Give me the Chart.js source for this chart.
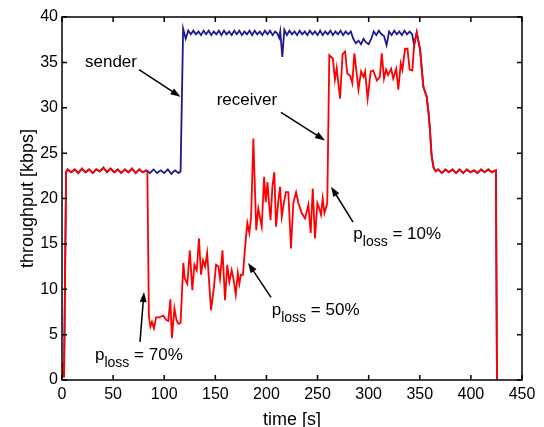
<!DOCTYPE html>
<html>
<head>
<meta charset="utf-8">
<script src="https://cdn.jsdelivr.net/npm/chart.js@4.4.0/dist/chart.umd.min.js"></script>
<style>
  html, body { margin: 0; padding: 0; background: #fff; }
  canvas { display: block; }
</style>
</head>
<body>
<canvas id="chartThroughput" width="544" height="427"></canvas>
<script>

// both curves share the start-up and the tail, so those are kept once
const rampTime = [0, 1, 2, 4, 5.5, 9, 12.5, 16, 19.5, 23, 26.5, 30, 33.5, 37, 40.5, 44, 47.5, 51, 54.5, 58, 61.5, 65, 68.5, 72, 75.5, 79, 82.5];
const rampKbps = [0, 1.8, 0.3, 22.9, 23.2, 22.9, 23.2, 22.8, 23.3, 22.9, 23.2, 22.8, 23.2, 23.0, 23.4, 22.9, 23.3, 22.9, 23.2, 22.8, 23.2, 22.9, 23.3, 22.8, 23.2, 22.9, 23.1];

const senderMidTime = [86, 89.5, 93, 96.5, 100, 103.5, 107, 110.5, 114, 116,
  118.5, 121,
  123.5, 126, 128.5, 131, 133.5, 136, 138.5, 141, 143.5, 146, 148.5, 151, 153.5, 156, 158.5, 161, 163.5, 166, 168.5, 171,
  173.5, 176, 178.5, 181, 183.5, 186, 188.5, 191, 193.5, 196, 198.5, 201, 203.5, 206, 208.5,
  210.5, 212.5, 213.5, 215.5, 217.5,
  220, 222.5, 225, 227.5, 230, 232.5, 235, 237.5, 240, 242.5, 245, 247.5, 250, 252.5, 255, 257.5, 260, 262.5, 265, 267.5,
  270, 272.5, 275, 277.5, 280, 282.5,
  285, 287.5, 290, 292.5, 295, 297.5, 300, 302.5, 305, 307.5, 310, 312.5, 315, 317.5, 320, 322.5, 325, 327.5, 330, 332.5,
  335, 337.5, 340, 342.5];
const senderMidKbps = [22.8, 23.2, 22.8, 23.1, 22.8, 23.2, 22.7, 23.1, 22.8, 23.0,
  38.7, 37.6,
  38.5, 38.1, 38.5, 38.1, 38.4, 38.0, 38.5, 38.1, 38.5, 38.0, 38.4, 38.1, 38.5, 38.0, 38.5, 38.1, 38.4, 38.0, 38.5, 38.1,
  38.5, 38.0, 38.4, 38.1, 38.5, 38.0, 38.5, 38.1, 38.4, 38.0, 38.5, 38.1, 38.5, 38.0, 38.4,
  38.2, 37.7, 38.4, 35.6, 38.6,
  38.0, 38.5, 38.1, 38.4, 38.0, 38.5, 38.1, 38.4, 38.0, 38.5, 38.1, 38.4, 38.0, 38.5, 38.0, 38.4, 38.1, 38.5, 38.0, 38.4,
  38.1, 38.5, 38.0, 38.4, 38.1, 38.4,
  37.6, 37.1, 37.4, 37.0, 37.6, 37.2, 37.0, 37.6, 38.4, 38.0, 38.5, 38.1, 37.9, 36.9, 38.4, 38.0, 38.5, 38.1, 38.4, 38.0,
  38.5, 38.1, 38.4, 38.1];

const receiverMidTime = [83.5, 85, 86.5, 88, 90, 92, 95, 97, 99, 102,
  104, 106, 107.5, 110, 112, 114, 116, 118.7, 120, 122.6,
  125, 127.5, 129.5, 131.8, 134, 136, 138, 140, 142, 145.8,
  148.7, 150.7, 153, 154.6, 157, 159.5, 161.7, 163.7, 166, 168,
  170, 172, 173.5, 175, 177, 179, 181.3, 183.3, 185, 187.2,
  190, 192, 195.4, 197.7, 199.3, 201, 202.5, 204, 205.8, 207.7,
  209.4, 211.7, 213.3, 215, 217, 219, 221.4, 224, 226.3, 229,
  231.2, 234.5, 237.8, 241, 243.3, 245.3, 247.5, 249.8, 251.7, 253.4,
  255, 256.7, 258, 259.5, 261.5, 265, 267, 268.7, 272, 274.5,
  277, 279, 282, 284, 286, 288, 290, 292.6, 295, 296.5,
  299, 302, 304.6, 308, 311, 312.8, 315, 317, 319, 322,
  324, 327, 329, 331.4, 333, 335.6, 338, 340, 342.7];
const receiverMidKbps = [22.9, 7.0, 5.9, 6.4, 5.7, 6.9, 6.9, 7.0, 7.1, 6.6,
  6.5, 8.9, 4.6, 7.9, 6.6, 6.2, 6.3, 12.9, 11.2, 10.6,
  14.3, 9.9, 12.7, 12.1, 15.6, 11.6, 13.2, 12.5, 14.0, 7.7,
  10.3, 12.7, 12.5, 11.2, 14.3, 8.8, 12.7, 10.8, 12.1, 11.0,
  9.4, 11.8, 10.6, 11.6, 11.6, 14.5, 17.3, 16.2, 18.0, 26.6,
  16.5, 18.9, 16.9, 22.4, 19.6, 21.8, 19.5, 17.6, 21.3, 22.9,
  16.9, 19.8, 21.3, 18.0, 19.5, 20.7, 20.7, 14.5, 19.5, 20.7,
  19.5, 18.4, 17.8, 19.3, 16.2, 21.1, 15.6, 19.5, 18.9, 18.2,
  20.0, 18.4, 18.9, 19.5, 35.8, 35.4, 33.1, 34.4, 31.0, 35.9,
  36.2, 33.8, 33.5, 32.7, 36.0, 34.1, 32.0, 34.0, 33.4, 34.0,
  31.0, 34.0, 34.1, 33.0, 33.4, 36.0, 33.2, 34.2, 33.6, 34.3,
  33.2, 34.3, 32.0, 34.9, 34.2, 36.5, 36.5, 34.2, 34.1];

const tailTime = [344.5, 347, 350.3, 353.5, 356.8, 358.5, 360, 361.5, 363.5, 365.5,
  368, 371.5, 375, 378.5, 382, 385.5, 389, 392.5, 396, 399.5,
  403, 406.5, 410, 413.5, 417, 420.5, 424.5, 425.5];
const tailKbps = [36.9, 38.3, 36.4, 32.3, 31.2, 29.5, 27.5, 24.8, 23.4, 23.0,
  23.2, 22.8, 23.2, 22.9, 23.2, 22.8, 23.2, 22.8, 23.2, 22.9,
  23.1, 22.8, 23.2, 22.9, 23.2, 22.9, 23.1, 0];

const xTicks = [0, 450, 50];
const yTicks = [0, 40, 5];

// labels and arrows, placed in data units (time, kbps)
const notes = [
  { text: 'sender', t: 22.5, v: 35.0, from: [75.3, 34.2], to: [115.9, 31.2] },
  { text: 'receiver', t: 151.3, v: 30.85, from: [214.2, 29.5], to: [257.3, 26.4] },
  { text: '10%', loss: true, t: 285, v: 16.1, from: [284.7, 17.4], to: [263.2, 21.3] },
  { text: '50%', loss: true, t: 205.2, v: 7.7, from: [204.5, 9.1], to: [182, 12.9] },
  { text: '70%', loss: true, t: 32.3, v: 2.75, from: [76.3, 4.2], to: [80.2, 9.7] }
];

const FONT = '"Liberation Sans", Arial, sans-serif';

function toPoints(times, values) {
  return times.map((t, i) => ({ x: t, y: values[i] }));
}

function arrow(ctx, x1, y1, x2, y2) {
  const ang = Math.atan2(y2 - y1, x2 - x1);
  const len = 10, half = 3.5;
  ctx.beginPath();
  ctx.moveTo(x1, y1);
  ctx.lineTo(x2 - Math.cos(ang) * len * 0.8, y2 - Math.sin(ang) * len * 0.8);
  ctx.stroke();
  ctx.beginPath();
  ctx.moveTo(x2, y2);
  ctx.lineTo(x2 - Math.cos(ang) * len - Math.sin(ang) * half, y2 - Math.sin(ang) * len + Math.cos(ang) * half);
  ctx.lineTo(x2 - Math.cos(ang) * len + Math.sin(ang) * half, y2 - Math.sin(ang) * len - Math.cos(ang) * half);
  ctx.closePath();
  ctx.fill();
}

const frameAndNotes = {
  id: 'frameAndNotes',
  afterDraw(chart) {
    const { ctx, chartArea: a, scales: { x, y } } = chart;
    ctx.save();
    ctx.strokeStyle = '#000';
    ctx.fillStyle = '#000';
    ctx.lineWidth = 1.5;
    ctx.strokeRect(a.left, a.top, a.width, a.height);

    // matlab style ticks, inside the box on all four sides
    ctx.beginPath();
    x.ticks.forEach(tk => {
      const px = x.getPixelForValue(tk.value);
      ctx.moveTo(px, a.bottom); ctx.lineTo(px, a.bottom - 5);
      ctx.moveTo(px, a.top); ctx.lineTo(px, a.top + 5);
    });
    y.ticks.forEach(tk => {
      const py = y.getPixelForValue(tk.value);
      ctx.moveTo(a.left, py); ctx.lineTo(a.left + 5, py);
      ctx.moveTo(a.right, py); ctx.lineTo(a.right - 5, py);
    });
    ctx.stroke();

    ctx.textBaseline = 'middle';
    ctx.textAlign = 'left';
    notes.forEach(n => {
      let px = x.getPixelForValue(n.t);
      const py = y.getPixelForValue(n.v);
      if (n.loss) {
        ctx.font = '17px ' + FONT;
        ctx.fillText('p', px, py);
        px += ctx.measureText('p').width;
        ctx.font = '14px ' + FONT;
        ctx.fillText('loss', px, py + 8);
        px += ctx.measureText('loss').width;
        ctx.font = '17px ' + FONT;
        ctx.fillText(' = ' + n.text, px, py);
      } else {
        ctx.font = '17px ' + FONT;
        ctx.fillText(n.text, px, py);
      }
      ctx.lineWidth = 1.5;
      arrow(ctx, x.getPixelForValue(n.from[0]), y.getPixelForValue(n.from[1]),
        x.getPixelForValue(n.to[0]), y.getPixelForValue(n.to[1]));
    });
    ctx.restore();
  }
};

const chartThroughput = new Chart(document.getElementById('chartThroughput'), {
  type: 'line',
  data: {
    datasets: [{
      label: 'receiver',
      data: toPoints(rampTime.concat(receiverMidTime, tailTime), rampKbps.concat(receiverMidKbps, tailKbps)),
      borderColor: '#ff0000',
      borderWidth: 1.8,
      pointRadius: 0,
      tension: 0,
      order: 0
    }, {
      label: 'sender',
      data: toPoints(rampTime.concat(senderMidTime, tailTime), rampKbps.concat(senderMidKbps, tailKbps)),
      borderColor: '#1c1a8c',
      borderWidth: 1.8,
      pointRadius: 0,
      tension: 0,
      order: 1
    }]
  },
  options: {
    responsive: false,
    animation: false,
    layout: { padding: { top: 17, right: 22, left: 0, bottom: 0 } },
    plugins: { legend: { display: false }, tooltip: { enabled: false } },
    scales: {
      x: {
        type: 'linear',
        min: xTicks[0], max: xTicks[1],
        ticks: { stepSize: xTicks[2], color: '#000', font: { family: FONT, size: 16 }, padding: 5, maxRotation: 0 },
        grid: { display: false, drawTicks: false },
        border: { display: false },
        title: { display: true, text: 'time [s]', color: '#000', font: { family: FONT, size: 18 }, padding: { top: 0, bottom: -4 } },
        afterFit: s => { s.height = 47; }
      },
      y: {
        min: yTicks[0], max: yTicks[1],
        ticks: { stepSize: yTicks[2], color: '#000', font: { family: FONT, size: 16 }, padding: 4 },
        grid: { display: false, drawTicks: false },
        border: { display: false },
        title: { display: true, text: 'throughput [kbps]', color: '#000', font: { family: FONT, size: 18 }, padding: { top: 17, bottom: 0 } },
        afterFit: s => { s.width = 62; }
      }
    }
  },
  plugins: [frameAndNotes]
});
</script>
</body>
</html>
